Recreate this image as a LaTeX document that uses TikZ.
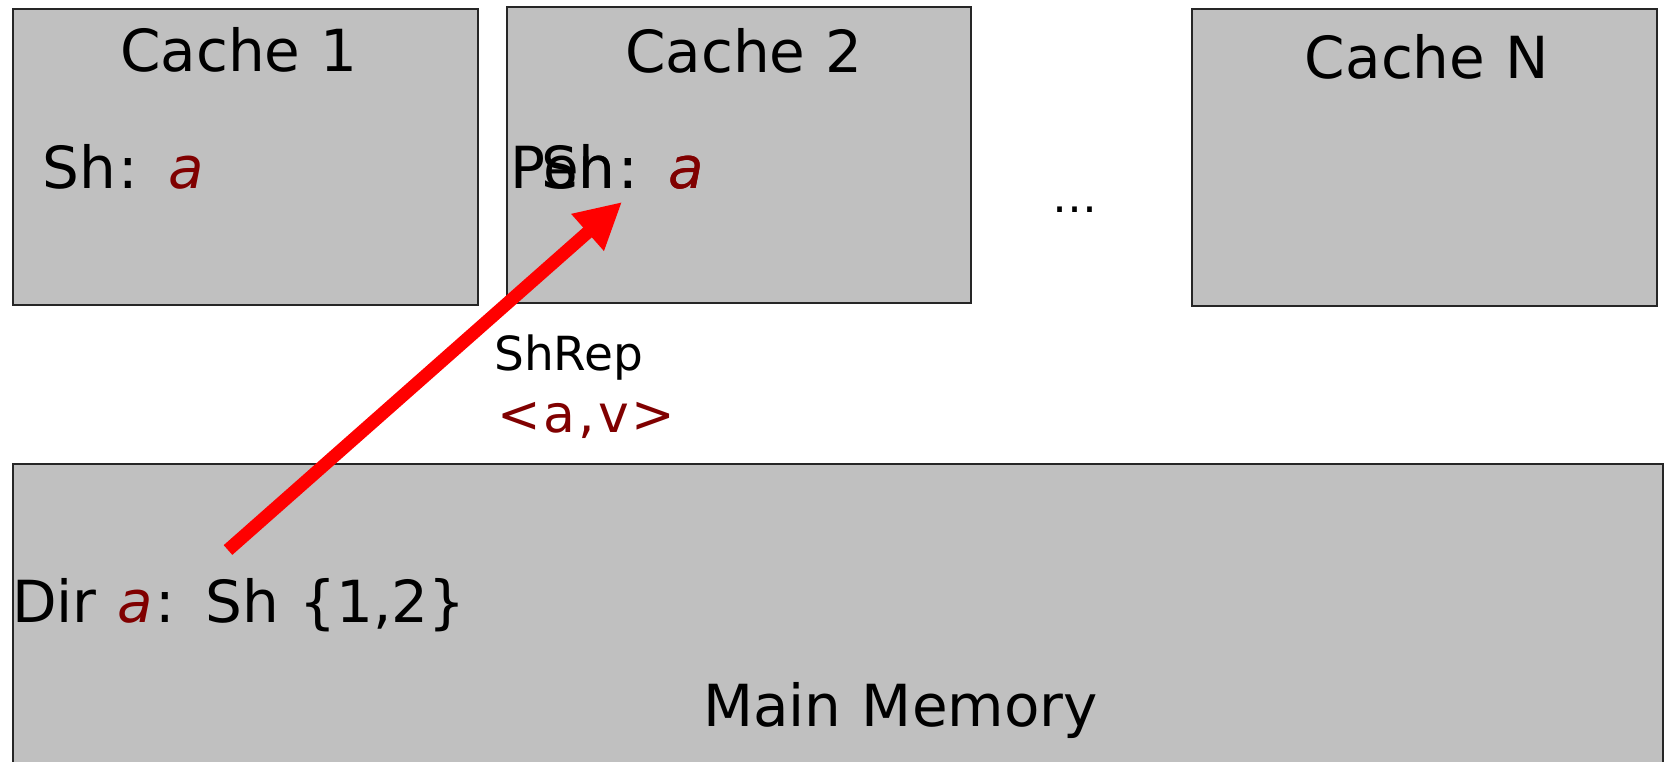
\documentclass[tikz,border=0pt]{standalone}
\usepackage{fontspec}
\setmainfont[WordSpace=1.1]{DejaVu Sans}
\usetikzlibrary{arrows.meta}
\definecolor{boxgray}{RGB}{192,192,192}
\definecolor{vred}{RGB}{128,0,0}
\definecolor{arrred}{RGB}{255,0,0}
\newcommand{\cln}{\kern3pt:\kern4pt}
\newcommand{\va}{\textcolor{vred}{\textit{a}}}
\begin{document}
\begin{tikzpicture}[x=1pt,y=-1pt,
  unitbox/.style={draw=black!85, line width=1.6pt, fill=boxgray, inner sep=0pt, anchor=north west},
  big/.style={inner sep=0pt, font=\fontsize{58}{60}\selectfont},
  mid/.style={inner sep=0pt, font=\fontsize{47}{49}\selectfont},
  val/.style={inner sep=0pt, text=vred, font=\fontsize{52}{54}\selectfont},
  msg/.style={draw=arrred, line width=13pt, -{Triangle[length=46pt,width=46pt]}}
]
\path[use as bounding box, clip] (0,0) rectangle (1666,761);
\fill[white] (0,0) rectangle (1666,761);

% boxes
\node[unitbox, minimum width=465pt, minimum height=296pt] (c1) at (12,8) {};
\node[unitbox, minimum width=464pt, minimum height=296pt] (c2) at (506,6) {};
\node[unitbox, minimum width=465pt, minimum height=297pt] (cn) at (1191,8) {};
\node[unitbox, minimum width=1650pt, minimum height=340pt] (mem) at (12,463) {};

% titles
\node[big, anchor=base] (t1) at (239,71) {Cache 1};
\node[big, anchor=base] (t2) at (744,72) {Cache 2};
\node[big, anchor=base] (tn) at (1427,78) {Cache N};

% cache contents
\node[big, anchor=base west] (sh1) at (42,188) {Sh\cln{} \va};
\node[big, anchor=base west] (pen2) at (510,188) {Pen\cln{} \va};
\node[big, anchor=base east] (sh2) at (pen2.base east) {Sh\cln{} \va};

% dots
\node[inner sep=0pt, anchor=base west, font=\fontsize{45}{47}\selectfont] (dots) at (1052,212) {…};

% memory contents
\node[big, anchor=base west] (dir) at (12,622) {Dir \va\cln{} Sh \{1,2\}};
\node[big, anchor=base west] (mm) at (703,726) {Main Memory};

% message
\node[mid, anchor=base west] (shrep) at (494,370) {ShRep};
\node[val, anchor=base west] (av) at (497,432) {<\kern3pt a\kern3pt,\kern3pt v\kern3pt>};

\coordinate (src) at (228,550);
\coordinate (dst) at (622,202);
\draw[msg] (src) -- (dst);
\end{tikzpicture}
\end{document}
